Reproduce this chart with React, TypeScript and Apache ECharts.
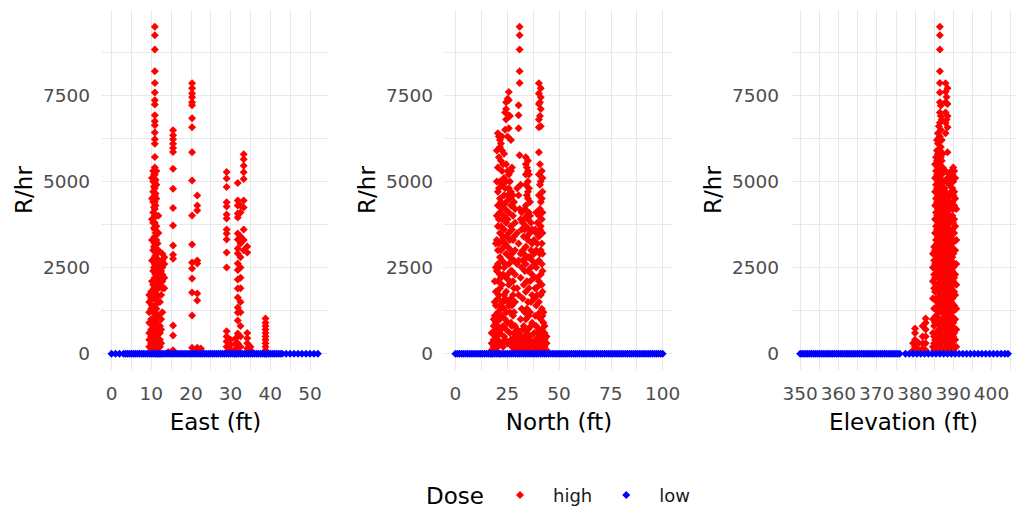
import React, { useEffect, useRef } from "react";
import * as echarts from "echarts";

// ---------- tick / grid values ----------
const yTickLabels = [0, 2500, 5000, 7500];
const yGridValues = [0, 1250, 2500, 3750, 5000, 6250, 7500, 8750];
const eastTickLabels = [0, 10, 20, 30, 40, 50];
const eastGridValues = [0, 5, 10, 15, 20, 25, 30, 35, 40, 45, 50];
const northTickLabels = [0, 25, 50, 75, 100];
const northGridValues = [0, 12.5, 25, 37.5, 50, 62.5, 75, 87.5, 100];
const elevTickLabels = [350, 360, 370, 380, 390, 400];
const elevGridValues = [350, 355, 360, 365, 370, 375, 380, 385, 390, 395, 400, 405];

// ---------- high dose: [x, [R/hr values]] ----------
const eastHigh: [number, number[]][] = [
  [9.5, [1700, 1500, 1200, 900, 600, 400, 200]],
  [10, [1800, 1600, 1300, 1000, 700, 500, 300, 100]],
  [10.2, [5100, 4500, 3900, 3300, 2700, 2100, 1400, 900, 500]],
  [10.5, [5300, 5000, 4700, 4400, 4100, 3800, 3000, 2400, 2000, 1600, 1200, 800, 600, 400, 200]],
  [10.7, [5200, 4850, 4250, 3650, 3100, 2500, 1900, 1300, 700, 300]],
  [10.9, [9486, 9244, 8829, 8198, 7858, 7579, 7355, 7230, 6919, 6745, 6628, 6416, 6221, 6096, 5706, 5400, 5200, 5000, 4800, 4600, 4400, 4200, 4000, 3800, 3600, 3400, 3200, 3000, 2800, 2600, 2400, 2200, 2000, 1800, 1600, 1400, 1200, 1000, 800, 600, 400, 200]],
  [11.1, [5050, 4650, 4300, 3500, 2850, 2300, 1750, 1100, 500, 0]],
  [11.3, [5300, 4900, 4500, 4000, 3700, 3300, 2900, 2500, 2100, 1700, 1300, 900, 700, 500, 300, 100]],
  [11.6, [3200, 2750, 2350, 1650, 1000, 300]],
  [11.8, [4000, 3500, 3000, 2600, 2200, 1900, 1500, 1100, 800, 600, 400, 200, 0]],
  [12.2, [2500, 2000, 1500, 800, 600, 400, 200]],
  [12.5, [2400, 1700, 1000, 700, 300, 0]],
  [12.8, [2900, 2700, 2500, 2300, 2100, 1900, 1200]],
  [13.3, [2800, 2600, 2200, 1900]],
  [14.3, [50]],
  [15.5, [6483, 6337, 6221, 6096, 5968, 5852, 5369, 4788, 4224, 3721, 3140, 2869, 2753, 814, 523, 100]],
  [20.3, [7849, 7700, 7550, 7442, 7297, 7210, 6831, 6570, 5843, 5029, 4012, 3169, 2645, 2471, 2180, 1773, 1105, 174]],
  [21.6, [4593, 4302, 4157, 2704, 2616, 1744, 1541, 174, 100]],
  [22.5, [150, 100]],
  [29, [5271, 5087, 4835, 4398, 4273, 4041, 3925, 3605, 3489, 3314, 2936, 2500, 650, 500, 350, 200, 50]],
  [30, [400, 250, 100]],
  [31.3, [450, 300, 150, 0]],
  [31.8, [4951, 4448, 4302, 4070, 3950, 3489, 3314, 3053, 2907, 2616, 2425, 2151, 1890, 1628, 1337, 1192, 959, 581, 300, 100]],
  [32.5, [4300, 4100, 3400, 3200, 2800, 2500, 2200, 1900, 1500, 1200, 800, 500, 200]],
  [33.3, [5785, 5640, 5452, 5262, 5070, 4448, 4244, 3600, 3300, 3000]],
  [34.2, [3110, 2936, 600, 450, 300, 150]],
  [35, [200, 100]],
  [38.8, [1017, 900, 800, 700, 600, 500, 400, 300, 200, 100, 0]],
];

const northHigh: [number, number[]][] = [
  [17.5, [600, 300, 100, 0]],
  [18.5, [1000, 800, 600, 400, 200, 50]],
  [19, [2100, 1500, 1100, 600, 250]],
  [19.5, [3200, 2500, 1800, 1400, 900, 700, 500, 300, 100]],
  [20, [5900, 5000, 4000, 3300, 2400, 1800, 1000, 500]],
  [20.5, [6400, 5400, 4700, 4300, 3700, 3000, 2600, 2100, 1600, 1200, 800, 400, 200]],
  [21, [6300, 5700, 4800, 3900, 3200, 2500, 1700, 1100, 300]],
  [21.5, [6200, 6000, 5000, 4500, 4100, 3500, 2800, 2300, 1900, 1400, 1000, 600, 0]],
  [22, [6100, 5600, 4400, 3700, 3000, 2200, 1300, 700]],
  [22.5, [6300, 5900, 5300, 4900, 4200, 3900, 3300, 2700, 2000, 1500, 1100, 300]],
  [23, [5500, 4300, 3400, 2300, 1500, 800, 200]],
  [23.5, [5800, 5100, 4600, 4000, 3600, 3100, 2500, 1700, 1300, 500]],
  [24, [7000, 6500, 4800, 4200, 3200, 2600, 1600, 1000, 400]],
  [24.5, [7300, 7100, 6800, 5500, 5000, 4400, 3800, 3400, 2900, 2200, 1800, 1200, 700]],
  [25.2, [7400, 6300, 5300, 4600, 3900, 3100, 2300, 1500, 900, 300]],
  [25.8, [7597, 7355, 6919, 6540, 5200, 4800, 4100, 3500, 2600, 2000, 1400]],
  [26.3, [6900, 5000, 4500, 3300, 2800, 2100, 1200, 600]],
  [26.8, [6200, 5300, 4700, 4300, 3700, 3000, 2400, 1600, 900, 400]],
  [27.3, [5400, 4300, 3600, 2900, 2400, 1400, 800, 200]],
  [27.8, [4600, 4000, 3300, 2700, 2100, 1700, 1100, 300]],
  [28.3, [4400, 3400, 2700, 1900, 1200, 600, 100]],
  [28.8, [4200, 3800, 3000, 2300, 1500, 800, 500, 200]],
  [29.8, [4800, 3500, 2600, 1900, 700, 400, 100]],
  [30.5, [7210, 6919, 6540, 4600, 3200, 2700, 1700, 600, 300, 100]],
  [31, [9486, 9244, 8829, 8198, 7858, 5756, 4200]],
  [31.5, [4900, 3900, 2900, 2200, 1000, 400]],
  [32, [4100, 3600, 2500, 1300, 500, 200]],
  [32.5, [3800, 3000, 2700, 1600, 700, 100]],
  [33, [3900, 3400, 2900, 2000, 800, 300, 100]],
  [33.5, [4200, 3600, 2400, 1200, 500]],
  [34, [5700, 5500, 5200, 4900, 4300, 3700, 3100, 2600, 1800, 1000, 400, 150]],
  [34.5, [5400, 4600, 4000, 3400, 2800, 2100, 1300, 600]],
  [35, [5600, 5300, 5000, 4700, 4500, 3900, 3300, 2400, 1500, 700, 250]],
  [35.5, [5200, 4800, 4100, 3600, 2800, 1900, 1100, 400]],
  [36, [4400, 4000, 3500, 2800, 2100, 1200, 500, 100]],
  [36.5, [3800, 3000, 2500, 1500, 800, 300]],
  [37, [3600, 3200, 2700, 2300, 1700, 900, 300]],
  [38, [3300, 2900, 2200, 1600, 600, 200]],
  [38.5, [3600, 2600, 1900, 1100, 400]],
  [39, [4100, 3500, 3000, 2500, 1900, 1400, 800, 400, 100]],
  [39.5, [3800, 3200, 2200, 1700, 1100, 600, 200]],
  [40.3, [7849, 7550, 7250, 6800, 6570, 5843, 5200, 4600, 4000, 3400, 2700, 2100, 1500, 700, 300]],
  [40.8, [7300, 6900, 5500, 4900, 4200, 3600, 2900, 2000, 1200, 500, 100]],
  [41.2, [7700, 7442, 7100, 6600, 5000, 4400, 3700, 3000, 2300, 1700, 1000, 500, 200]],
  [41.7, [5300, 4500, 3900, 3200, 2600, 2000, 1300, 700, 400]],
  [42, [5100, 4700, 4100, 3500, 2900, 2400, 1800, 1100, 600, 300]],
  [42.5, [1200, 900, 500, 200]],
  [43, [800, 600, 400, 200, 50]],
  [44, [500, 300, 100]],
];

const elevHigh: [number, number[]][] = [
  [379.5, [300, 100]],
  [380, [727, 600, 400, 200, 50]],
  [381, [300, 100]],
  [382, [800, 500, 300, 150]],
  [382.8, [1017, 900, 700, 500, 300, 100]],
  [384.7, [2900, 2500, 2100, 1600, 1000, 600, 200]],
  [385, [3100, 2700, 2300, 1900, 1308, 800, 500, 300, 100]],
  [385.25, [5500, 5100, 4700, 4300, 3900, 3500, 3000, 2600, 2200, 1800, 1300, 900, 400]],
  [385.5, [5700, 5300, 4900, 4500, 4100, 3700, 3300, 2900, 2500, 2000, 1600, 1100, 600, 200]],
  [385.75, [6200, 5900, 5600, 5200, 4800, 4400, 4000, 3600, 3200, 2800, 2400, 2000, 1500, 1000, 500, 100]],
  [386, [6400, 6100, 5800, 5400, 5000, 4600, 4200, 3800, 3400, 3000, 2600, 2200, 1800, 1400, 900, 400]],
  [386.25, [6600, 6250, 5650, 5250, 4850, 4450, 4050, 3650, 3250, 2850, 2450, 2050, 1650, 1200, 700, 300]],
  [386.5, [9486, 9244, 8829, 8198, 7858, 7579, 7300, 7000, 6700, 6300, 5900, 5500, 5100, 4700, 4300, 3900, 3500, 3100, 2700, 2300, 1900, 1500, 1000, 600, 200]],
  [386.75, [7200, 6900, 6500, 6000, 5700, 5300, 4900, 4500, 4100, 3700, 3300, 2900, 2500, 2100, 1700, 1300, 800, 400]],
  [387, [6800, 6200, 5600, 5200, 4800, 4400, 4000, 3600, 3200, 2800, 2400, 2000, 1600, 1200, 700, 300]],
  [387.25, [5800, 5400, 5000, 4600, 4200, 3800, 3400, 3000, 2600, 2200, 1800, 1400, 1000, 500]],
  [387.5, [5000, 4500, 4100, 3700, 3300, 2900, 2500, 2100, 1700, 1300, 900, 500, 100]],
  [387.75, [4800, 4300, 3900, 3500, 3100, 2700, 2300, 1900, 1500, 1100, 700, 300]],
  [388, [7849, 7600, 7300, 7000, 6700, 6400, 5300, 4700, 4300, 3900, 3500, 3100, 2700, 2300, 1900, 1500, 1100, 700, 300]],
  [388.25, [7450, 6800, 5000, 4500, 4100, 3700, 3300, 2900, 2500, 2100, 1700, 1300, 900, 500]],
  [388.5, [7700, 7250, 6900, 6570, 5843, 5100, 4600, 4200, 3800, 3400, 3000, 2600, 2200, 1800, 1400, 1000, 600, 200]],
  [388.75, [5000, 4400, 4000, 3600, 3200, 2800, 2400, 2000, 1600, 1200, 800, 400]],
  [389, [5200, 4900, 4400, 4000, 3600, 3200, 2800, 2400, 2000, 1600, 1200, 800, 400, 100]],
  [389.25, [5100, 4600, 4200, 3800, 3400, 3000, 2600, 2200, 1800, 1400, 1000, 600, 200]],
  [389.5, [5300, 4700, 4300, 3900, 3500, 3100, 2700, 2300, 1900, 1500, 1100, 700, 300]],
  [389.75, [5200, 4800, 4400, 4000, 3600, 3200, 2800, 2400, 2000, 1600, 1200, 800, 400]],
  [390, [5400, 5000, 4600, 4200, 3800, 3300, 2900, 2500, 2100, 1700, 1300, 900, 500, 100]],
  [390.25, [5300, 4700, 4300, 3900, 3500, 3000, 2600, 2200, 1800, 1400, 1000, 600, 200]],
  [390.5, [5100, 4500, 3700, 3000, 2300, 1700, 1000, 400]],
  [390.8, [4200, 3300, 2600, 2000, 1300, 700, 200]],
];

// ---------- low dose: x positions (R/hr ~ 0) ----------
const eastLow = [0, 1, 2, 3, 3.5, 4, 4.5, 5, 5.5, 6, 6.5, 7, 7.5, 8, 8.5, 9, 9.5, 10, 10.5, 11, 11.5, 12, 12.5, 13, 13.5, 14, 14.5, 15, 15.5, 16, 16.5, 17, 17.5, 18, 18.5, 19, 19.5, 20, 20.5, 21, 21.5, 22, 22.5, 23, 23.5, 24, 24.5, 25, 25.5, 26, 26.5, 27, 27.5, 28, 28.5, 29, 29.5, 30, 30.5, 31, 31.5, 32, 32.5, 33, 33.5, 34, 34.5, 35, 35.5, 36, 36.5, 37, 37.5, 38, 38.5, 39, 39.5, 40, 40.5, 41, 41.5, 42, 42.5, 43, 44, 45, 46, 47, 48, 49, 50, 51, 52];
const northLow = [0, 1, 2, 3, 4, 5, 6, 7, 8, 9, 10, 11, 12, 13, 14, 15, 16, 17, 18, 19, 20, 21, 22, 23, 24, 25, 26, 27, 28, 29, 30, 31, 32, 33, 34, 35, 36, 37, 38, 39, 40, 41, 42, 43, 44, 45, 46, 47, 48, 49, 50, 51, 52, 53, 54, 55, 56, 57, 58, 59, 60, 61, 62, 63, 64, 65, 66, 67, 68, 69, 70, 71, 72, 73, 74, 75, 76, 77, 78, 79, 80, 81, 82, 83, 84, 85, 86, 87, 88, 89, 90, 91, 92, 93, 94, 95, 96, 97, 98, 99, 100];
const elevLow = [350, 350.5, 351, 351.5, 352, 352.5, 353, 353.5, 354, 354.5, 355, 355.5, 356, 356.5, 357, 357.5, 358, 358.5, 359, 359.5, 360, 360.5, 361, 361.5, 362, 362.5, 363, 363.5, 364, 364.5, 365, 365.5, 366, 366.5, 367, 367.5, 368, 368.5, 369, 369.5, 370, 370.5, 371, 371.5, 372, 372.5, 373, 373.5, 374, 374.5, 375, 375.5, 376, 377.5, 378.5, 379.5, 380.5, 381.5, 382.5, 383.5, 384.5, 385.5, 386.5, 387.5, 388.5, 389.5, 390.5, 391.5, 392.5, 393.5, 394.5, 395.5, 396.5, 397.5, 398.5, 399.5, 400.5, 401.5, 402.5, 403.5, 404.3];

const FONT = "DejaVu Sans";
const HIGH_COLOR = "#ff0000";
const LOW_COLOR = "#0000ff";

function toPairs(cols: [number, number[]][]) {
  const out: number[][] = [];
  cols.forEach(([x, ys]) => ys.forEach((y) => out.push([x, y])));
  return out;
}

export default function App() {
  const ref = useRef<HTMLDivElement>(null);

  useEffect(() => {
    if (!ref.current) return;
    const chart = echarts.init(ref.current, null, { renderer: "svg" });

    const panels = [
      { left: 102, width: 227, min: -2.4, max: 54.8, name: "East (ft)", ticks: eastTickLabels, gridv: eastGridValues, high: eastHigh, low: eastLow },
      { left: 445, width: 228, min: -5, max: 105, name: "North (ft)", ticks: northTickLabels, gridv: northGridValues, high: northHigh, low: northLow },
      { left: 791, width: 225, min: 347.6, max: 406.4, name: "Elevation (ft)", ticks: elevTickLabels, gridv: elevGridValues, high: elevHigh, low: elevLow },
    ];

    const splitLine = { show: true, lineStyle: { color: "#e8e8e8", width: 1 } };
    const plain = (v: number) => String(v);

    const option: any = {
      animation: false,
      backgroundColor: "#ffffff",
      title: {
        text: "Dose",
        left: 426,
        top: 484,
        padding: 0,
        textStyle: { fontSize: 23, fontWeight: "normal", color: "#000000", fontFamily: FONT },
      },
      legend: {
        data: ["high", "low"],
        left: 516,
        top: 486,
        padding: 0,
        icon: "diamond",
        itemWidth: 8,
        itemHeight: 8,
        itemGap: 30,
        itemStyle: { opacity: 1 },
        textStyle: { fontSize: 18, color: "#1a1a1a", fontFamily: FONT, padding: [0, 0, 0, 24] },
      },
      grid: panels.map((p) => ({ left: p.left, width: p.width, top: 10, height: 360 })),
      xAxis: panels.map((p, i) => ({
        type: "value",
        gridIndex: i,
        min: p.min,
        max: p.max,
        name: p.name,
        nameLocation: "middle",
        nameGap: 40,
        nameTextStyle: { fontSize: 23, color: "#000000", fontFamily: FONT },
        axisLine: { show: false },
        axisTick: { show: false, customValues: p.gridv },
        axisLabel: { customValues: p.ticks, interval: 0, formatter: plain, color: "#4d4d4d", fontSize: 18.5, margin: 14, fontFamily: FONT },
        splitLine,
      })),
      yAxis: panels.map((p, i) => ({
        type: "value",
        gridIndex: i,
        min: -475,
        max: 9975,
        name: "R/hr",
        nameLocation: "middle",
        nameGap: 67,
        nameTextStyle: { fontSize: 23, color: "#000000", fontFamily: FONT },
        axisLine: { show: false },
        axisTick: { show: false, customValues: yGridValues },
        axisLabel: { customValues: yTickLabels, formatter: plain, color: "#4d4d4d", fontSize: 18.5, margin: 12, fontFamily: FONT },
        splitLine,
      })),
      series: panels.flatMap((p, i) => [
        {
          name: "high",
          type: "scatter",
          xAxisIndex: i,
          yAxisIndex: i,
          symbol: "diamond",
          symbolSize: 8,
          itemStyle: { color: HIGH_COLOR, opacity: 1 },
          silent: true,
          data: toPairs(p.high),
        },
        {
          name: "low",
          type: "scatter",
          xAxisIndex: i,
          yAxisIndex: i,
          symbol: "diamond",
          symbolSize: 8,
          itemStyle: { color: LOW_COLOR, opacity: 1 },
          silent: true,
          data: p.low.map((x) => [x, 0]),
        },
      ]),
    };

    chart.setOption(option);
    return () => chart.dispose();
  }, []);

  return (
    <div
      ref={ref}
      style={{ position: "fixed", left: 0, top: 0, width: 1016, height: 512, background: "#fff" }}
    />
  );
}
